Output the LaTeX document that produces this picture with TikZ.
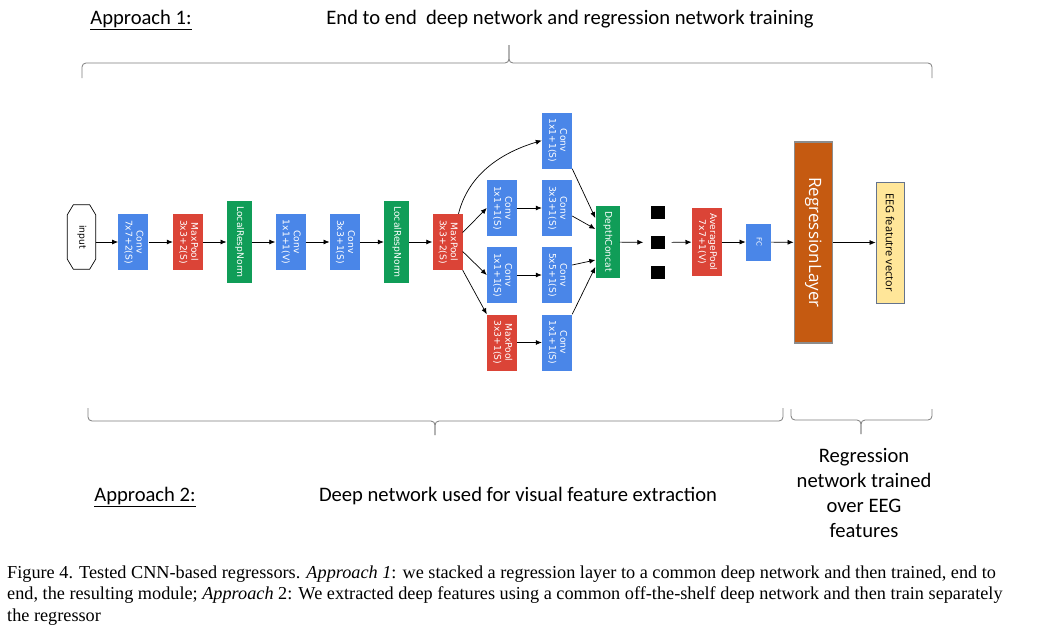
\documentclass[tikz,border=0pt]{standalone}
\usepackage{fontspec}
\setmainfont{Carlito}
\newfontfamily\boxfont{DejaVu Sans}
\newfontfamily\regfont{Open Sans}
\newfontfamily\capfont{Liberation Serif}
\usepackage{graphicx}
\usetikzlibrary{arrows.meta}
\definecolor{convblue}{RGB}{74,134,232}
\definecolor{poolred}{RGB}{219,68,55}
\definecolor{normgreen}{RGB}{16,157,88}
\definecolor{regorange}{RGB}{197,90,17}
\definecolor{reggray}{RGB}{140,140,140}
\definecolor{eegyellow}{RGB}{255,230,153}
\definecolor{eegline}{RGB}{100,115,140}
\definecolor{bracegray}{RGB}{125,125,125}
\newcommand{\vtext}[1]{\rotatebox{-90}{\begin{tabular}{@{}c@{}}#1\end{tabular}}}
\tikzset{
  layer/.style={minimum width=30pt, minimum height=56pt, inner sep=0pt, text=white,
    font=\boxfont\fontsize{9.2}{11}\selectfont},
  conv/.style={layer, fill=convblue},
  pool/.style={layer, fill=poolred},
  norm/.style={layer, fill=normgreen, minimum width=25pt, minimum height=82pt},
  dot/.style={fill=black, minimum width=14pt, minimum height=13pt, inner sep=0pt},
  arr/.style={-{Latex[length=6pt,width=5pt]}, line width=0.7pt},
  bracket/.style={draw=bracegray, line width=0.8pt, rounded corners=4pt},
  note/.style={font=\fontsize{20.6}{25}\selectfont},
  caption/.style={font=\capfont\fontsize{18.25}{21.5}\selectfont, inner sep=0pt}
}
\begin{document}
\begin{tikzpicture}[x=1pt,y=-1pt]
\fill[white] (0,0) rectangle (1038,630);
\useasboundingbox (0,0) rectangle (1038,630);
% main chain
\node[minimum width=28pt, minimum height=64pt, inner sep=0pt, font=\boxfont\fontsize{9.2}{11}\selectfont] (inp) at (81.5,237) {\vtext{input}};
\draw[line width=0.7pt] ([xshift=6pt]inp.north west) -- ([xshift=-6pt]inp.north east) -- ([yshift=-10pt]inp.north east) -- ([yshift=10pt]inp.south east) -- ([xshift=-6pt]inp.south east) -- ([xshift=6pt]inp.south west) -- ([yshift=10pt]inp.south west) -- ([yshift=-10pt]inp.north west) -- cycle;
\node[conv] (c1) at (133.3,242) {\vtext{Conv\\7x7+2(S)}};
\node[pool] (mp1) at (188,242) {\vtext{MaxPool\\3x3+2(S)}};
\node[norm] (lrn1) at (239.2,242) {\vtext{LocalRespNorm}};
\node[conv] (c2) at (290.5,242) {\vtext{Conv\\1x1+1(V)}};
\node[conv] (c3) at (344.7,242) {\vtext{Conv\\3x3+1(S)}};
\node[norm] (lrn2) at (396.5,242) {\vtext{LocalRespNorm}};
\node[pool] (mp2) at (447.5,242) {\vtext{MaxPool\\3x3+2(S)}};
% inception block
\node[conv] (i1) at (557,140.5) {\vtext{Conv\\1x1+1(S)}};
\node[conv] (r2a) at (502,208) {\vtext{Conv\\1x1+1(S)}};
\node[conv] (r2b) at (557,208) {\vtext{Conv\\3x3+1(S)}};
\node[conv] (r3a) at (502,275) {\vtext{Conv\\1x1+1(S)}};
\node[conv] (r3b) at (557,275) {\vtext{Conv\\5x5+1(S)}};
\node[pool] (r4a) at (502,342.5) {\vtext{MaxPool\\3x3+1(S)}};
\node[conv] (r4b) at (557,342.5) {\vtext{Conv\\1x1+1(S)}};
\node[norm, minimum width=24pt, minimum height=72pt] (dc) at (607.5,242) {\vtext{DepthConcat}};
\foreach \i/\y in {1/212.5,2/242.5,3/272.5}
  \node[dot] (dot\i) at (657.5,\y) {};
\node[pool, minimum height=68pt] (ap) at (706.7,242) {\vtext{AveragePool\\7x7+1(V)}};
\node[conv, minimum width=25pt, minimum height=37pt, font=\boxfont\fontsize{7}{9}\selectfont] (fc) at (758.3,242) {\vtext{FC}};
\node[fill=regorange, draw=reggray, line width=1.2pt, minimum width=38pt, minimum height=201pt, inner sep=0pt, text=white, font=\regfont\fontsize{17}{20}\selectfont] (rl) at (813.2,242.5) {\rotatebox{-90}{RegressionLayer}};
\node[fill=eegyellow, draw=eegline, line width=0.8pt, minimum width=28pt, minimum height=121pt, inner sep=0pt, font=\regfont\fontsize{11}{13}\selectfont] (eeg) at (890,242.5) {\rotatebox{-90}{EEG featutre vector}};
% connectors
\draw[arr] (inp.east |- c1) -- (c1);
\foreach \a/\b in {c1/mp1, mp1/lrn1, lrn1/c2, c2/c3, c3/lrn2, lrn2/mp2, r2a/r2b, r3a/r3b, r4a/r4b, ap/fc, fc/rl, rl/eeg}
  \draw[arr] (\a) -- (\b);
\draw[arr] ([xshift=11pt]mp2.north) .. controls +(10,-40) and +(-40,12) .. (i1.west);
\draw[arr] ([yshift=9.5pt]mp2.east) -- (r2a.west);
\draw[arr] ([yshift=-9.5pt]mp2.east) -- (r3a.west);
\draw[arr] (mp2.south east) -- (r4a.north west);
\draw[arr] (i1.south east) -- ([yshift=24pt]dc.west);
\draw[arr] ([yshift=-8pt]r2b.east) -- ([yshift=13pt]dc.west);
\draw[arr] ([yshift=10pt]r3b.east) -- ([yshift=-18pt]dc.west);
\draw[arr] (r4b.north east) -- ([yshift=-25pt]dc.west);
\draw[arr, shorten >=7pt] (dc) -- (dot2);
\draw[arr, shorten <=7pt] (dot2) -- (ap);
% braces
\draw[bracket] (82,78) -- (82,63) -- (509,63) -- (509,45);
\draw[bracket] (932,78) -- (932,63) -- (509,63) -- (509,45);
\draw[bracket] (88,408) -- (88,421) -- (435,421) -- (435,435);
\draw[bracket] (783,408) -- (783,421) -- (435,421) -- (435,435);
\draw[bracket] (791,409) -- (791,420) -- (861,420) -- (861,434);
\draw[bracket] (932,409) -- (932,420) -- (861,420) -- (861,434);
% texts
\node[note, anchor=base] (ap1) at (141,24) {\underline{Approach 1:}};
\node[note, anchor=base] (e2e) at (570,24) {End to end\ \ deep network and regression network training};
\node[note, anchor=base] (ap2) at (145,501) {\underline{Approach 2:}};
\node[note, anchor=base] (dnet) at (518,501) {Deep network used for visual feature extraction};
\node[note, align=center, anchor=north] (rnet) at (864,445) {Regression\\network trained\\over EEG\\features};
\foreach \y/\t in {578/{Figure 4. Tested CNN-based regressors. \textit{Approach 1}: we stacked a regression layer to a common deep network and then trained, end to},
  599.5/{end, the resulting module; \textit{Approach} 2: We extracted deep features using a common off-the-shelf deep network and then train separately},
  621/{the regressor}}
  \node[caption, anchor=base west] at (7,\y) {\t};
\end{tikzpicture}
\end{document}
